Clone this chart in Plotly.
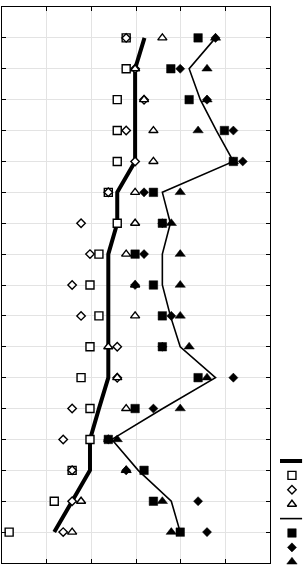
import plotly.graph_objects as go

# ---- data ----
rows = list(range(1, 18))

thick_line = [3.19, 2.98, 2.98, 2.98, 2.98, 2.58, 2.58, 2.38, 2.38, 2.38, 2.38, 2.38, 2.17, 1.97, 1.97, 1.57, 1.17]
open_square = [2.78, 2.78, 2.58, 2.58, 2.58, 2.38, 2.58, 2.17, 1.97, 2.17, 1.97, 1.77, 1.97, 1.97, 1.57, 1.17, 0.16]
open_diamond = [2.78, 2.98, 3.18, 2.78, 2.98, 2.38, 1.77, 1.97, 1.57, 1.77, 2.58, 2.58, 1.57, 1.37, 1.57, 1.57, 1.37]
open_triangle = [3.59, 2.98, 3.18, 3.39, 3.39, 2.98, 2.98, 2.78, 2.98, 2.98, 2.38, 2.58, 2.78, 2.38, 2.78, 1.77, 1.57]

thin_line = [4.78, 4.19, 4.44, 4.80, 5.18, 3.59, 3.77, 3.59, 3.59, 3.77, 3.99, 4.78, 3.60, 2.46, 3.05, 3.79, 3.99]
filled_square = [4.39, 3.78, 4.19, 4.98, 5.18, 3.39, 3.59, 2.98, 3.39, 3.59, 3.59, 4.39, 2.98, 2.38, 3.18, 3.39, 3.99]
filled_diamond = [4.78, 3.99, 4.59, 5.18, 5.39, 3.18, 3.59, 3.18, 2.98, 3.79, 3.59, 5.18, 3.39, 2.38, 2.78, 4.39, 4.59]
filled_triangle = [4.78, 4.59, 4.59, 4.39, 5.18, 3.99, 3.79, 3.99, 3.99, 3.99, 4.19, 4.59, 3.99, 2.58, 2.78, 3.59, 3.79]

x_ticks = [0, 1, 2, 3, 4, 5, 6]

# ---- styles ----
thick = dict(color="black", width=4)
thin = dict(color="black", width=1.6)
open_mk = lambda sym, size: dict(symbol=sym, size=size, color="white",
                                 line=dict(color="black", width=1.4))
fill_mk = lambda sym, size: dict(symbol=sym, size=size, color="black",
                                 line=dict(color="black", width=0.5))

series = [
    ("lines", thick_line, dict(line=thick)),
    ("markers", open_square, dict(marker=open_mk("square", 8))),
    ("markers", open_diamond, dict(marker=open_mk("diamond", 6.5))),
    ("markers", open_triangle, dict(marker=open_mk("triangle-up", 8))),
    ("lines", thin_line, dict(line=thin)),
    ("markers", filled_square, dict(marker=fill_mk("square", 8.5))),
    ("markers", filled_diamond, dict(marker=fill_mk("diamond", 7))),
    ("markers", filled_triangle, dict(marker=fill_mk("triangle-up", 9))),
]

fig = go.Figure()
for mode, vals, style in series:
    fig.add_trace(go.Scatter(x=vals, y=rows, mode=mode, showlegend=False,
                             hoverinfo="skip", **style))

# ---- legend keys drawn in a small side subplot ----
for k, (mode, vals, style) in enumerate(series):
    if mode == "lines":
        fig.add_trace(go.Scatter(x=[0, 0.96], y=[k, k], mode="lines",
                                 xaxis="x2", yaxis="y2", showlegend=False,
                                 hoverinfo="skip", **style))
    else:
        fig.add_trace(go.Scatter(x=[0.52], y=[k], mode="markers",
                                 xaxis="x2", yaxis="y2", showlegend=False,
                                 cliponaxis=False, hoverinfo="skip", **style))

W, H = 303, 565
ml, mr, mt, mb = 2, 0, 7, 2
pw = W - ml - mr
ph = H - mt - mb
plot_right = 270
key_left = 280
key_top = 461
key_step = 14.4

axis_common = dict(showline=True, linecolor="black", linewidth=1, mirror="ticks",
                   ticks="inside", ticklen=4, tickcolor="black",
                   showticklabels=False, showgrid=True, gridcolor="#e3e3e3",
                   gridwidth=1, zeroline=False, fixedrange=True)

top_val = -(key_top - mt) / key_step
bot_val = top_val + ph / key_step

fig.update_layout(
    width=W, height=H,
    margin=dict(l=ml, r=mr, t=mt, b=mb, pad=0),
    paper_bgcolor="white", plot_bgcolor="white",
    showlegend=False,
    xaxis=dict(range=[x_ticks[0], x_ticks[-1]], tickvals=x_ticks,
               domain=[0, (plot_right - ml) / pw], **axis_common),
    yaxis=dict(range=[18, 0], tickvals=list(range(0, 19)), **axis_common),
    xaxis2=dict(domain=[(key_left - ml) / pw, 1], range=[0, 1], visible=False,
                anchor="y2", fixedrange=True),
    yaxis2=dict(domain=[0, 1], range=[bot_val, top_val], visible=False,
                anchor="x2", fixedrange=True),
)

fig.write_html("out.html")
